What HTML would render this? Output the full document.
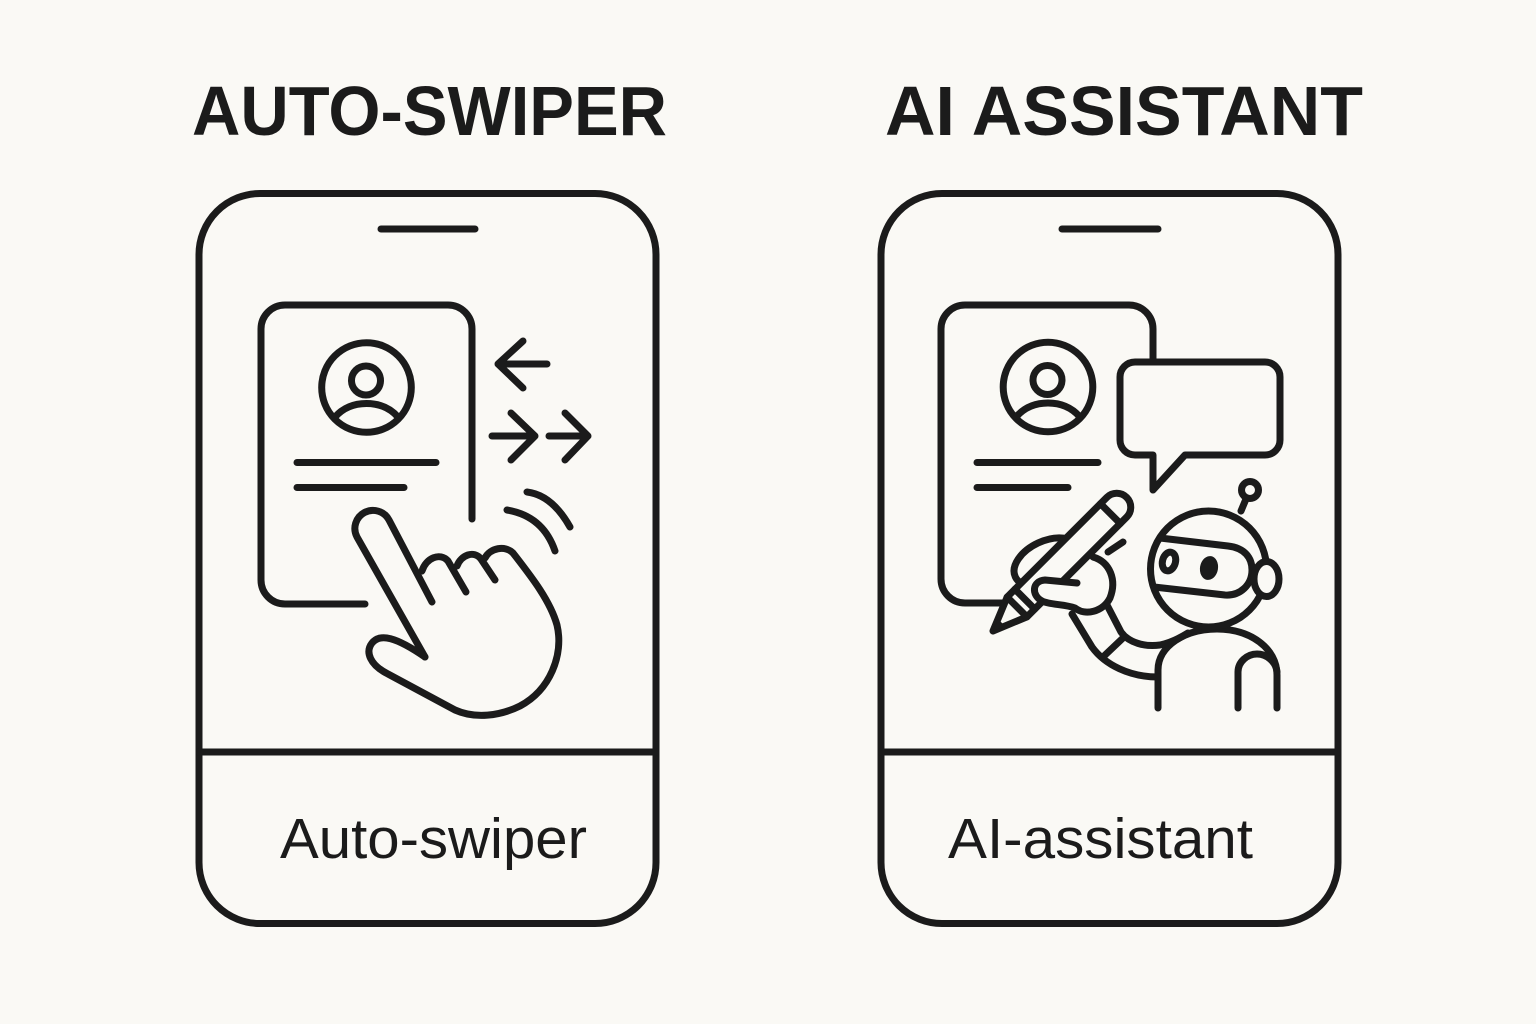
<!DOCTYPE html>
<html>
<head>
<meta charset="utf-8">
<style>
  html, body { margin: 0; padding: 0; background: #faf9f5; }
  body { width: 1536px; height: 1024px; overflow: hidden; }
  svg { display: block; }
  .s { fill: none; stroke: #1b1b1b; stroke-width: 7; stroke-linecap: round; stroke-linejoin: round; }
  .t { font-family: "Liberation Sans", Arial, sans-serif; fill: #1b1b1b; }
</style>
</head>
<body>
<svg width="1536" height="1024" viewBox="0 0 1536 1024" xmlns="http://www.w3.org/2000/svg">
  <rect x="0" y="0" width="1536" height="1024" fill="#faf9f5"/>

  <!-- Titles -->
  <text class="t" x="192" y="135" font-size="70" font-weight="bold" textLength="475" lengthAdjust="spacingAndGlyphs">AUTO-SWIPER</text>
  <text class="t" x="885" y="135" font-size="70" font-weight="bold" textLength="478" lengthAdjust="spacingAndGlyphs">AI ASSISTANT</text>

  <!-- ============ LEFT PHONE ============ -->
  <rect class="s" x="199" y="193.5" width="457" height="730" rx="61" ry="61" stroke-width="7"/>
  <line class="s" x1="199" y1="752" x2="656" y2="752" stroke-width="7"/>
  <line class="s" x1="381" y1="229" x2="475" y2="229"/>
  <text class="t" x="280" y="858" font-size="57" textLength="307" lengthAdjust="spacingAndGlyphs">Auto-swiper</text>

  <!-- card -->
  <path class="s" d="M365,604 L285,604 A24,24 0 0 1 261,580 L261,329 A24,24 0 0 1 285,305 L448,305 A24,24 0 0 1 472,329 L472,519"/>
  <!-- avatar -->
  <circle class="s" cx="366.5" cy="387.5" r="44.8"/>
  <circle class="s" cx="366" cy="380.5" r="14.5"/>
  <path class="s" d="M335,417 C343,408 353,403.5 366.5,403.5 C380,403.5 390,408 398,417"/>
  <!-- text lines -->
  <line class="s" x1="297" y1="462.5" x2="436" y2="462.5"/>
  <line class="s" x1="297" y1="487.5" x2="404" y2="487.5"/>
  <!-- arrows -->
  <path class="s" d="M498,364 L547,364 M523,341 L498,364 L523,388"/>
  <path class="s" d="M492,436 L535,436 M511,413 L535,436 L511,460"/>
  <path class="s" d="M549,436 L588,436 M565,413 L588,436 L565,460"/>
  <!-- swipe arcs -->
  <path class="s" d="M527,492 Q552,495 570,527"/>
  <path class="s" d="M507,510 Q543,516 555,551"/>
  <!-- hand -->
  <path class="s" d="M425,657 L357,537 A18,18 0 0 1 389,520 L432,602"/>
  <path class="s" d="M422,571 C426,558 440,552 448,561 L466,592"/>
  <path class="s" d="M457,566 C461,555 474,550 481,559 L495,580"/>
  <path class="s" d="M485,558 C490,548 505,545 513,553 C530,575 550,600 557,625 C564,655 550,690 520,706 C500,716 475,719 455,710 L388,674 C370,665 365,652 372,643 C380,633 396,637 425,657"/>

  <!-- ============ RIGHT PHONE ============ -->
  <rect class="s" x="881" y="193.5" width="457" height="730" rx="61" ry="61" stroke-width="7"/>
  <line class="s" x1="881" y1="752" x2="1338" y2="752" stroke-width="7"/>
  <line class="s" x1="1062" y1="229" x2="1158" y2="229"/>
  <text class="t" x="948" y="858" font-size="57" textLength="305" lengthAdjust="spacingAndGlyphs">AI-assistant</text>

  <!-- card -->
  <path class="s" d="M1006,603 L965,603 A24,24 0 0 1 941,579 L941,329 A24,24 0 0 1 965,305 L1129,305 A24,24 0 0 1 1153,329 L1153,362"/>
  <!-- avatar -->
  <circle class="s" cx="1048" cy="387" r="44.8"/>
  <circle class="s" cx="1047.5" cy="380" r="14.5"/>
  <path class="s" d="M1016.5,416.5 C1024.5,407.5 1034.5,403 1048,403 C1061.5,403 1071.5,407.5 1079.5,416.5"/>
  <!-- text lines -->
  <line class="s" x1="977" y1="462.5" x2="1098" y2="462.5"/>
  <line class="s" x1="977" y1="487.5" x2="1068" y2="487.5"/>

  <!-- speech bubble -->
  <path class="s" style="fill:#faf9f5" d="M1135,362 L1265,362 A15,15 0 0 1 1280,377 L1280,440 A15,15 0 0 1 1265,455 L1185,455 L1153,490 L1153,455 L1135,455 A15,15 0 0 1 1120,440 L1120,377 A15,15 0 0 1 1135,362 Z"/>

  <!-- robot body -->
  <path class="s" d="M1158,708 L1158,670 C1158,646 1185,629 1217,629 C1250,629 1277,648 1277,675 L1277,708"/>
  <path class="s" d="M1238,708 L1238,672 C1238,662 1247,654 1257,654 C1267,654 1276,662 1277,672"/>

  <!-- arm -->
  <path class="s" d="M1072,614 L1092,647 C1105,665 1130,677 1158,677"/>
  <path class="s" d="M1107,605 L1121,632 C1129,643 1145,647 1160,645 C1170,643 1180,638 1188,633"/>
  <path class="s" d="M1104,656 L1123,638"/>

  <!-- robot head -->
  <circle class="s" cx="1208.5" cy="569" r="58" style="fill:#faf9f5"/>
  <path class="s" d="M1160,538 L1228,546 C1245,548 1252,558 1252,570 C1252,585 1240,596 1225,595 L1154,587"/>
  <ellipse class="s" cx="1169" cy="561.5" rx="6.5" ry="9.5" transform="rotate(15 1169 561.5)" stroke-width="5.5"/>
  <ellipse cx="1209" cy="568" rx="9" ry="12" fill="#1b1b1b" transform="rotate(10 1209 568)"/>
  <ellipse class="s" cx="1266.5" cy="579" rx="12.5" ry="17.5" style="fill:#faf9f5"/>
  <circle class="s" cx="1250" cy="490" r="8.5"/>
  <path class="s" d="M1246,499 L1241,511"/>

  <!-- elbow / wing shape behind pencil -->
  <ellipse class="s" cx="1047" cy="562" rx="35" ry="21" transform="rotate(-25 1047 562)"/>

  <!-- pencil -->
  <g transform="translate(993,631) rotate(-45)">
    <path class="s" style="fill:#faf9f5" d="M0,0 L34,-14 L175,-14 A14,14 0 0 1 175,14 L34,14 Z"/>
    <path class="s" d="M34,-14 L34,14 M45,-14 L45,14 M166,-14 L166,14"/>
    <path d="M0,0 L12,-5 L12,5 Z" fill="#1b1b1b"/>
  </g>
  <path class="s" d="M1108,552 L1123,542"/>

  <!-- fist -->
  <path class="s" style="fill:#faf9f5" d="M1093,557 C1110,562 1117,580 1110,598 C1103,612 1085,616 1075,608 C1065,604 1050,605 1042,601 C1031,595 1032,581 1045,580 L1077,583"/>
</svg>
</body>
</html>
